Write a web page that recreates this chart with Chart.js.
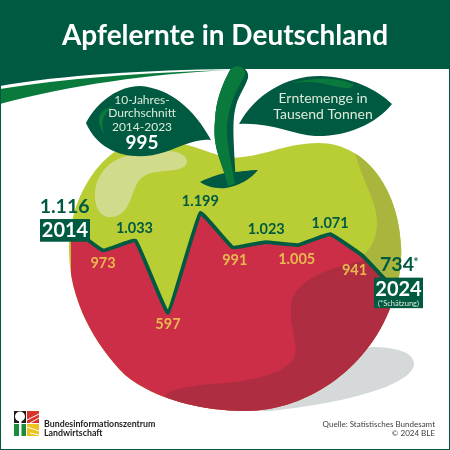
<!DOCTYPE html>
<html lang="de">
<head>
<meta charset="utf-8">
<title>Apfelernte in Deutschland</title>
<script src="https://cdn.jsdelivr.net/npm/chart.js@4"></script>
<style>
  html, body { margin: 0; padding: 0; background: #fff; }
  canvas { display: block; }
</style>
</head>
<body>
<canvas id="apple-chart" width="450" height="450"></canvas>
<script>
/* ================================
   DATA
   ================================ */
const years = ["2014", "2015", "2016", "2017", "2018", "2019", "2020", "2021", "2022", "2023", "2024"];
const harvest = [1116, 973, 1033, 597, 1199, 991, 1023, 1005, 1071, 941, 734];
const harvestLabels = ["1.116", "973", "1.033", "597", "1.199", "991", "1.023", "1.005", "1.071", "941", "734"];
const leafLines = ["10-Jahres-", "Durchschnitt", "2014-2023"];
const leafAverage = "995";
const unitLines = ["Erntemenge in", "Tausend Tonnen"];

/* Label offsets from each point, and text colours */
const labelDx = [-6, 0, -1, 0, 0, 2, 1, -1, 0, -8, 2];
const labelDy = [-20, 13, -12, 11, -12, 13, -13, 14, -11, 15, -25];
const labelOnGreen = [true, false, true, false, true, false, true, false, true, false, true];

const DARK = "#005a41";
const MID = "#0a7a3c";
const GREEN = "#b9cd35";
const OLIVE = "#a9b53c";
const LIGHT = "#d2da8c";
const RED = "#cc2e48";
const DARK_RED = "#ae2d41";
const YELLOW = "#e9b94f";
const FONT = 'Lato, sans-serif';

/* ================================
   SHAPES
   ================================ */
function applePath(ctx) {
  ctx.beginPath();
  ctx.moveTo(228, 158);
  ctx.bezierCurveTo(205, 152, 185, 140, 150, 140);
  ctx.bezierCurveTo(105, 140, 69, 195, 69, 250);
  ctx.bezierCurveTo(69, 300, 95, 345, 125, 375);
  ctx.bezierCurveTo(155, 400, 205, 411, 245, 411);
  ctx.bezierCurveTo(310, 411, 372, 365, 393, 300);
  ctx.bezierCurveTo(400, 280, 402, 260, 401, 245);
  ctx.bezierCurveTo(399, 195, 370, 143, 318, 143);
  ctx.bezierCurveTo(285, 143, 262, 158, 228, 158);
  ctx.closePath();
}

function fillShape(ctx, color, draw) {
  ctx.fillStyle = color;
  ctx.beginPath();
  draw();
  ctx.closePath();
  ctx.fill();
}

/* The red lower half comes in as a pattern, so the line's fill keeps to the apple */
function buildRedPattern() {
  const off = document.createElement("canvas");
  off.width = 450;
  off.height = 450;
  const c = off.getContext("2d");
  applePath(c);
  c.fillStyle = RED;
  c.fill();
  c.save();
  applePath(c);
  c.clip();
  fillShape(c, DARK_RED, () => {
    c.moveTo(420, 250);
    c.lineTo(375, 258);
    c.bezierCurveTo(340, 265, 300, 275, 292, 300);
    c.bezierCurveTo(287, 320, 298, 340, 295, 355);
    c.bezierCurveTo(290, 370, 265, 378, 235, 382);
    c.bezierCurveTo(205, 385, 180, 385, 165, 395);
    c.lineTo(200, 430);
    c.lineTo(420, 430);
  });
  c.restore();
  return c.createPattern(off, "no-repeat");
}

function drawHeader(ctx) {
  fillShape(ctx, DARK, () => {
    ctx.moveTo(0, 0);
    ctx.lineTo(450, 0);
    ctx.lineTo(450, 69);
    ctx.lineTo(230, 69);
    ctx.bezierCurveTo(150, 70, 60, 75, 0, 86);
  });
  fillShape(ctx, MID, () => {
    ctx.moveTo(0, 89);
    ctx.bezierCurveTo(60, 79, 150, 72, 230, 70);
    ctx.bezierCurveTo(150, 74, 70, 85, 0, 104);
  });
  ctx.fillStyle = "#fff";
  ctx.font = "700 28px " + FONT;
  ctx.textAlign = "center";
  ctx.textBaseline = "middle";
  ctx.fillText("Apfelernte in Deutschland", 225, 36);
}

function drawApple(ctx) {
  // Shadow on the ground
  fillShape(ctx, "#d5d9da", () => {
    ctx.moveTo(370, 347);
    ctx.bezierCurveTo(395, 347, 415, 352, 414, 365);
    ctx.bezierCurveTo(412, 380, 370, 400, 270, 411);
    ctx.lineTo(250, 411);
  });

  applePath(ctx);
  ctx.fillStyle = GREEN;
  ctx.fill();

  ctx.save();
  applePath(ctx);
  ctx.clip();
  fillShape(ctx, OLIVE, () => {
    ctx.moveTo(352, 140);
    ctx.bezierCurveTo(360, 180, 378, 200, 377, 225);
    ctx.bezierCurveTo(376, 245, 365, 255, 355, 262);
    ctx.lineTo(410, 295);
    ctx.lineTo(410, 140);
  });
  fillShape(ctx, LIGHT, () => {
    ctx.moveTo(183, 155);
    ctx.bezierCurveTo(190, 160, 188, 168, 175, 170);
    ctx.bezierCurveTo(155, 172, 145, 172, 138, 182);
    ctx.bezierCurveTo(130, 195, 130, 215, 112, 217);
    ctx.bezierCurveTo(100, 218, 95, 208, 95, 195);
    ctx.bezierCurveTo(95, 178, 105, 165, 120, 158);
    ctx.bezierCurveTo(140, 150, 175, 148, 183, 155);
  });
  ctx.restore();
}

function drawStemAndLeaves(ctx) {
  // Dimple under the stem
  fillShape(ctx, DARK, () => {
    ctx.moveTo(200, 182);
    ctx.bezierCurveTo(212, 176, 225, 172, 235, 172);
    ctx.bezierCurveTo(245, 171, 252, 170, 258, 170);
    ctx.bezierCurveTo(250, 180, 238, 186, 226, 188);
    ctx.bezierCurveTo(215, 189, 206, 186, 200, 182);
  });
  // Stem
  fillShape(ctx, DARK, () => {
    ctx.moveTo(230, 70);
    ctx.bezierCurveTo(236, 62, 250, 68, 248, 78);
    ctx.bezierCurveTo(244, 90, 238, 95, 235, 110);
    ctx.bezierCurveTo(232, 125, 234, 145, 236, 184);
    ctx.lineTo(228, 186);
    ctx.bezierCurveTo(222, 160, 212, 150, 215, 120);
    ctx.bezierCurveTo(216, 100, 222, 85, 230, 70);
  });
  fillShape(ctx, MID, () => {
    ctx.moveTo(230, 70);
    ctx.bezierCurveTo(235, 63, 246, 66, 245, 75);
    ctx.bezierCurveTo(238, 88, 230, 100, 227, 125);
    ctx.bezierCurveTo(226, 145, 232, 165, 235, 184);
    ctx.lineTo(228, 186);
    ctx.bezierCurveTo(222, 160, 212, 150, 215, 120);
    ctx.bezierCurveTo(216, 100, 222, 85, 230, 70);
  });
  // Left leaf
  fillShape(ctx, DARK, () => {
    ctx.moveTo(86, 123);
    ctx.bezierCurveTo(98, 100, 120, 86, 140, 86);
    ctx.bezierCurveTo(170, 88, 195, 110, 211, 140);
    ctx.bezierCurveTo(195, 138, 178, 148, 165, 152);
    ctx.bezierCurveTo(135, 162, 100, 155, 86, 123);
  });
  fillShape(ctx, MID, () => {
    ctx.moveTo(113, 106);
    ctx.bezierCurveTo(100, 110, 94, 118, 104, 134);
    ctx.bezierCurveTo(100, 120, 104, 114, 113, 106);
  });
  // Right leaf
  fillShape(ctx, DARK, () => {
    ctx.moveTo(239, 124);
    ctx.bezierCurveTo(255, 95, 285, 76, 320, 76);
    ctx.bezierCurveTo(350, 76, 378, 90, 392, 104);
    ctx.bezierCurveTo(375, 125, 345, 137, 315, 136);
    ctx.bezierCurveTo(295, 135, 270, 122, 239, 124);
  });
  fillShape(ctx, MID, () => {
    ctx.moveTo(292, 83);
    ctx.bezierCurveTo(315, 76, 345, 78, 353, 85);
    ctx.bezierCurveTo(354, 90, 340, 88, 325, 84);
    ctx.bezierCurveTo(312, 81, 302, 82, 292, 83);
  });

  ctx.textAlign = "center";
  ctx.textBaseline = "middle";
  ctx.fillStyle = "#dcebdc";
  ctx.font = "12px " + FONT;
  leafLines.forEach((line, i) => ctx.fillText(line, 142, 100 + i * 13.5));
  ctx.fillStyle = "#fff";
  ctx.font = "700 19px " + FONT;
  ctx.fillText(leafAverage, 142, 143);
  ctx.fillStyle = "#dcebdc";
  ctx.font = "14px " + FONT;
  unitLines.forEach((line, i) => ctx.fillText(line, 323, 98 + i * 16));
}

function drawFooter(ctx) {
  // Logo tiles
  ctx.fillStyle = "#1d1d1b";
  ctx.fillRect(14, 411, 12, 12);
  ctx.fillStyle = "#d8352a";
  ctx.fillRect(27, 411, 12, 12);
  ctx.fillStyle = "#1a8a3c";
  ctx.fillRect(14, 424, 12, 12);
  ctx.fillStyle = "#f0c31c";
  ctx.fillRect(27, 424, 12, 12);
  ctx.fillStyle = "#fff";
  ctx.beginPath();
  ctx.arc(20, 416.5, 5, 0, Math.PI * 2);
  ctx.fill();
  ctx.fillRect(19, 420, 2.5, 16);
  ctx.strokeStyle = "#fff";
  ctx.lineWidth = 1;
  [[27, 420, 39, 414], [30, 423, 39, 418], [27, 427, 39, 431], [30, 433, 39, 435]].forEach(([a, b, c, d]) => {
    ctx.beginPath();
    ctx.moveTo(a, b);
    ctx.lineTo(c, d);
    ctx.stroke();
  });

  ctx.textBaseline = "middle";
  ctx.textAlign = "left";
  ctx.fillStyle = "#1d1d1b";
  ctx.font = "700 8.8px " + FONT;
  ctx.fillText("Bundesinformationszentrum", 44, 424);
  ctx.fillText("Landwirtschaft", 44, 433);
  ctx.textAlign = "right";
  ctx.fillStyle = "#3c3c3b";
  ctx.font = "8px " + FONT;
  ctx.fillText("Quelle: Statistisches Bundesamt", 435, 424);
  ctx.fillText("\u00a9 2024 BLE", 435, 433);

  // Outer frame
  ctx.strokeStyle = DARK;
  ctx.lineWidth = 2;
  ctx.strokeRect(0, 0, 450, 450);
}

function drawValueLabels(chart, ctx) {
  const points = chart.getDatasetMeta(0).data;
  ctx.textAlign = "center";
  ctx.textBaseline = "middle";

  // Year boxes sit over both ends of the line
  const first = points[0];
  const last = points[points.length - 1];
  const boxA = { x: first.x - 30.6, y: first.y - 7.7, w: 50, h: 22.7 };
  const boxB = { x: last.x - 21, y: last.y - 12.5, w: 49, h: 30.5 };
  ctx.fillStyle = DARK;
  ctx.fillRect(boxA.x, boxA.y, boxA.w, boxA.h);
  ctx.fillRect(boxB.x, boxB.y, boxB.w, boxB.h);
  ctx.fillStyle = "#fff";
  ctx.font = "700 20px " + FONT;
  ctx.fillText(years[0], boxA.x + boxA.w / 2, boxA.y + boxA.h / 2);
  ctx.fillText(years[years.length - 1], boxB.x + boxB.w / 2, boxB.y + 11.5);
  ctx.font = "7.5px " + FONT;
  ctx.fillStyle = "#dcebdc";
  ctx.fillText("(*Sch\u00e4tzung)", boxB.x + boxB.w / 2, boxB.y + 25.5);

  harvestLabels.forEach((label, i) => {
    const end = i === 0 || i === harvestLabels.length - 1;
    ctx.font = (end ? "700 19.5px " : "700 14.5px ") + FONT;
    ctx.fillStyle = labelOnGreen[i] ? DARK : YELLOW;
    ctx.fillText(label, points[i].x + labelDx[i], points[i].y + labelDy[i]);
  });
  ctx.font = "13px " + FONT;
  ctx.fillStyle = DARK;
  ctx.fillText("*", last.x + 21, last.y - 27);
}

const appleArt = {
  id: "appleArt",
  beforeDatasetsDraw(chart) {
    const ctx = chart.ctx;
    ctx.save();
    drawHeader(ctx);
    drawApple(ctx);
    ctx.restore();
  },
  afterDatasetsDraw(chart) {
    const ctx = chart.ctx;
    ctx.save();
    drawStemAndLeaves(ctx);
    drawValueLabels(chart, ctx);
    drawFooter(ctx);
    ctx.restore();
  }
};

/* ================================
   CHART
   ================================ */
new Chart(document.getElementById("apple-chart").getContext("2d"), {
  type: "line",
  data: {
    labels: years,
    datasets: [{
      label: "Erntemenge in Tausend Tonnen",
      data: harvest,
      borderColor: DARK,
      borderWidth: 3.8,
      borderJoinStyle: "round",
      backgroundColor: buildRedPattern(),
      fill: "start",
      tension: 0.08,
      pointRadius: 0
    }]
  },
  options: {
    responsive: false,
    animation: false,
    layout: { padding: { left: 70.6, right: 55, top: 0, bottom: 0 } },
    plugins: {
      legend: { display: false },
      tooltip: { enabled: false }
    },
    scales: {
      x: { display: false },
      y: { display: false, min: -229, max: 2482 }
    }
  },
  plugins: [appleArt]
});
</script>
</body>
</html>
